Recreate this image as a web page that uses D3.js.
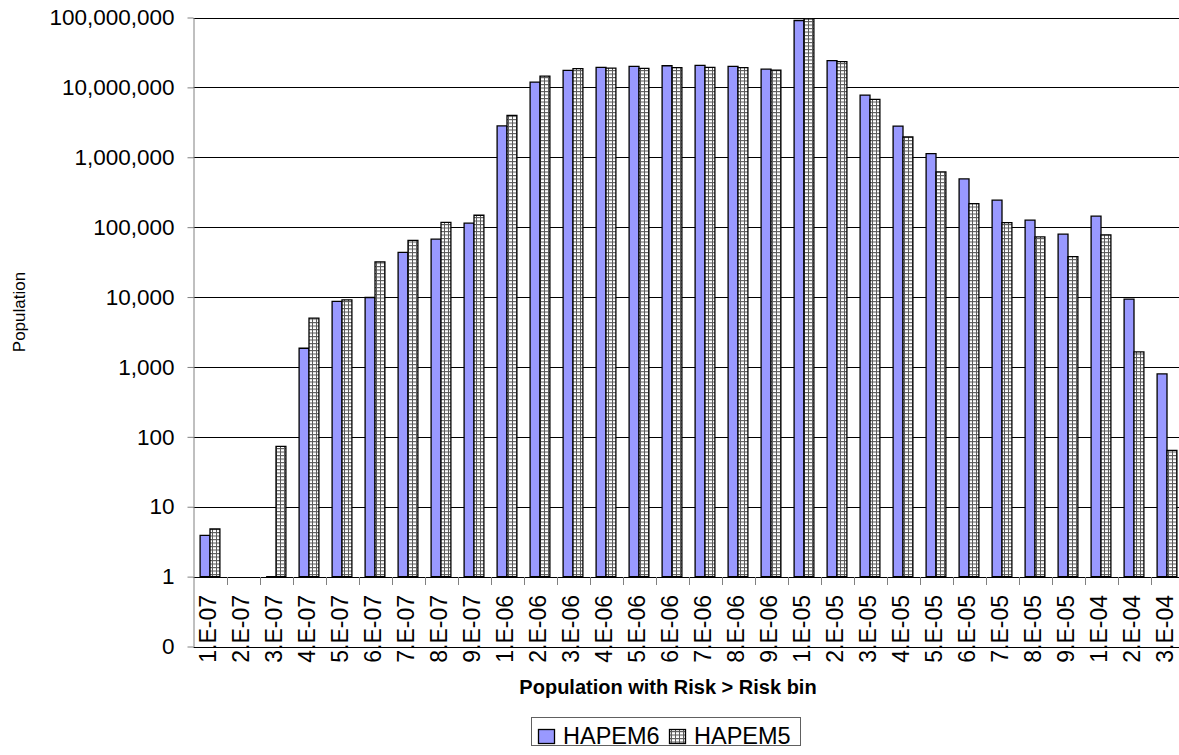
<!DOCTYPE html>
<html>
<head>
<meta charset="utf-8">
<script src="https://cdn.jsdelivr.net/npm/d3@7"></script>
<style>
  body { margin: 0; background: #fff; }
  svg { display: block; font-family: "Liberation Sans", Arial, sans-serif; }
  .axis path, .axis line { stroke: #808080; }
</style>
</head>
<body>
<div id="chart"></div>
<script>
const riskBins = [
  "1.E-07", "2.E-07", "3.E-07", "4.E-07", "5.E-07", "6.E-07", "7.E-07", "8.E-07", "9.E-07",
  "1.E-06", "2.E-06", "3.E-06", "4.E-06", "5.E-06", "6.E-06", "7.E-06", "8.E-06", "9.E-06",
  "1.E-05", "2.E-05", "3.E-05", "4.E-05", "5.E-05", "6.E-05", "7.E-05", "8.E-05", "9.E-05",
  "1.E-04", "2.E-04", "3.E-04"
];
const hapem6 = [
  3.9, null, 1, 1850, 8650, 9860, 43500, 67300, 114000,
  2810000, 11900000, 17500000, 19300000, 20000000, 20400000, 20600000, 20000000, 18200000,
  90600000, 24200000, 7760000, 2800000, 1130000, 490000, 243000, 126000, 79500,
  143500, 9350, 794
];
const hapem5 = [
  4.8, null, 73, 4990, 9120, 31900, 64600, 117000, 148000,
  3960000, 14500000, 18500000, 18900000, 18700000, 19200000, 19300000, 19200000, 17700000,
  95600000, 23400000, 6740000, 1950000, 617000, 217000, 116000, 72600, 38000,
  77600, 1640, 64
];
const seriesNames = ["HAPEM6", "HAPEM5"];
const yTicks = [0.1, 1, 10, 100, 1000, 10000, 100000, 1000000, 10000000, 100000000];

const width = 1179;
const height = 755;
const plot = {left: 193.5, top: 17.5, bottom: 646.5, step: 33};
const plotRight = plot.left + plot.step * riskBins.length;

const svg = d3.select('#chart').append('svg')
  .attr('width', width)
  .attr('height', height);

// pattern for HAPEM5 (small grid)
const defs = svg.append('defs');
const pat = defs.append('pattern')
  .attr('id', 'smallGrid')
  .attr('patternUnits', 'userSpaceOnUse')
  .attr('width', 4)
  .attr('height', 3.5);
pat.append('rect').attr('width', 4).attr('height', 3.5).attr('fill', '#fff');
pat.append('path')
  .attr('d', 'M0 0.5H4 M0.5 0V3.5')
  .attr('stroke', '#5a5a5a')
  .attr('stroke-width', 1);

// Scales
let yScale = d3.scaleLog()
  .domain([0.1, 1e8])
  .range([plot.bottom, plot.top]);

let xScale = d3.scaleBand()
  .domain(riskBins)
  .range([plot.left, plotRight])
  .paddingInner(0.4)
  .paddingOuter(0.2);

let xBounds = d3.scaleBand()
  .domain(riskBins)
  .range([plot.left, plotRight]);

let xSub = d3.scaleBand()
  .domain(seriesNames)
  .range([0, xScale.bandwidth()]);

const fills = {HAPEM6: '#9999ff', HAPEM5: 'url(#smallGrid)'};

// gridlines
svg.append('g')
  .selectAll('line')
  .data(yTicks)
  .enter().append('line')
  .attr('x1', plot.left)
  .attr('x2', width)
  .attr('y1', d => Math.round(yScale(d)) + 0.5)
  .attr('y2', d => Math.round(yScale(d)) + 0.5)
  .attr('stroke', '#000')
  .attr('stroke-width', 1);

// bars, based at 1 (category axis crosses there)
const rows = [];
riskBins.forEach((bin, i) => {
  rows.push({bin: bin, series: 'HAPEM6', value: hapem6[i]});
  rows.push({bin: bin, series: 'HAPEM5', value: hapem5[i]});
});

svg.append('g')
  .selectAll('path')
  .data(rows.filter(d => d.value != null))
  .enter().append('path')
  .attr('d', d => {
    const x0 = xScale(d.bin) + xSub(d.series);
    const x1 = x0 + xSub.bandwidth();
    const y0 = yScale(1);
    const y1 = yScale(d.value);
    return `M${x0},${y0}V${y1}H${x1}V${y0}Z`;
  })
  .attr('fill', d => fills[d.series])
  .attr('stroke', '#000')
  .attr('stroke-width', 1.3);

// category axis ticks at bin boundaries
svg.append('g')
  .selectAll('line')
  .data(riskBins.slice(1))
  .enter().append('line')
  .attr('x1', d => Math.round(xBounds(d)) + 0.5)
  .attr('x2', d => Math.round(xBounds(d)) + 0.5)
  .attr('y1', Math.round(yScale(1)))
  .attr('y2', Math.round(yScale(1)) + 8)
  .attr('stroke', '#808080');

// category labels
svg.append('g')
  .selectAll('text')
  .data(riskBins)
  .enter().append('text')
  .attr('transform', d => `translate(${xBounds(d) + xBounds.bandwidth() / 2 - 2},595) rotate(-90)`)
  .attr('text-anchor', 'end')
  .attr('dy', '0.36em')
  .style('font-size', '23px')
  .text(d => d);

// y axis
let yAxis = d3.axisLeft(yScale)
  .tickValues(yTicks)
  .tickSize(6)
  .tickSizeOuter(0)
  .tickPadding(13)
  .tickFormat(d => d < 1 ? '0' : d3.format(',')(d));

let yAxisG = svg.append('g')
  .attr('class', 'axis')
  .attr('transform', `translate(${plot.left}, 0)`)
  .call(yAxis);

yAxisG.selectAll('text')
  .style('font-size', '22.5px')
  .style('font-family', '"Liberation Sans", Arial, sans-serif')
  .attr('fill', '#000');

// axis titles
svg.append('text')
  .attr('transform', 'translate(25, 312) rotate(-90)')
  .attr('text-anchor', 'middle')
  .style('font-size', '17px')
  .text('Population');

svg.append('text')
  .attr('x', 668)
  .attr('y', 694)
  .attr('text-anchor', 'middle')
  .style('font-size', '20px')
  .style('font-weight', 'bold')
  .text('Population with Risk > Risk bin');

// Legend
const lg = svg.append('g').attr('transform', 'translate(531, 717)');
lg.append('rect')
  .attr('x', 0.5).attr('y', 0.5)
  .attr('width', 269).attr('height', 28)
  .attr('fill', '#fff')
  .attr('stroke', '#606060');

const legendX = [7, 138];
seriesNames.forEach((name, i) => {
  lg.append('rect')
    .attr('x', legendX[i] + 0.5).attr('y', 12.5)
    .attr('width', 16).attr('height', 14)
    .attr('fill', fills[name])
    .attr('stroke', '#000')
    .attr('stroke-width', 1.3);
  lg.append('text')
    .attr('x', legendX[i] + 25)
    .attr('y', 26.5)
    .style('font-size', '23.5px')
    .text(name);
});
</script>
</body>
</html>
